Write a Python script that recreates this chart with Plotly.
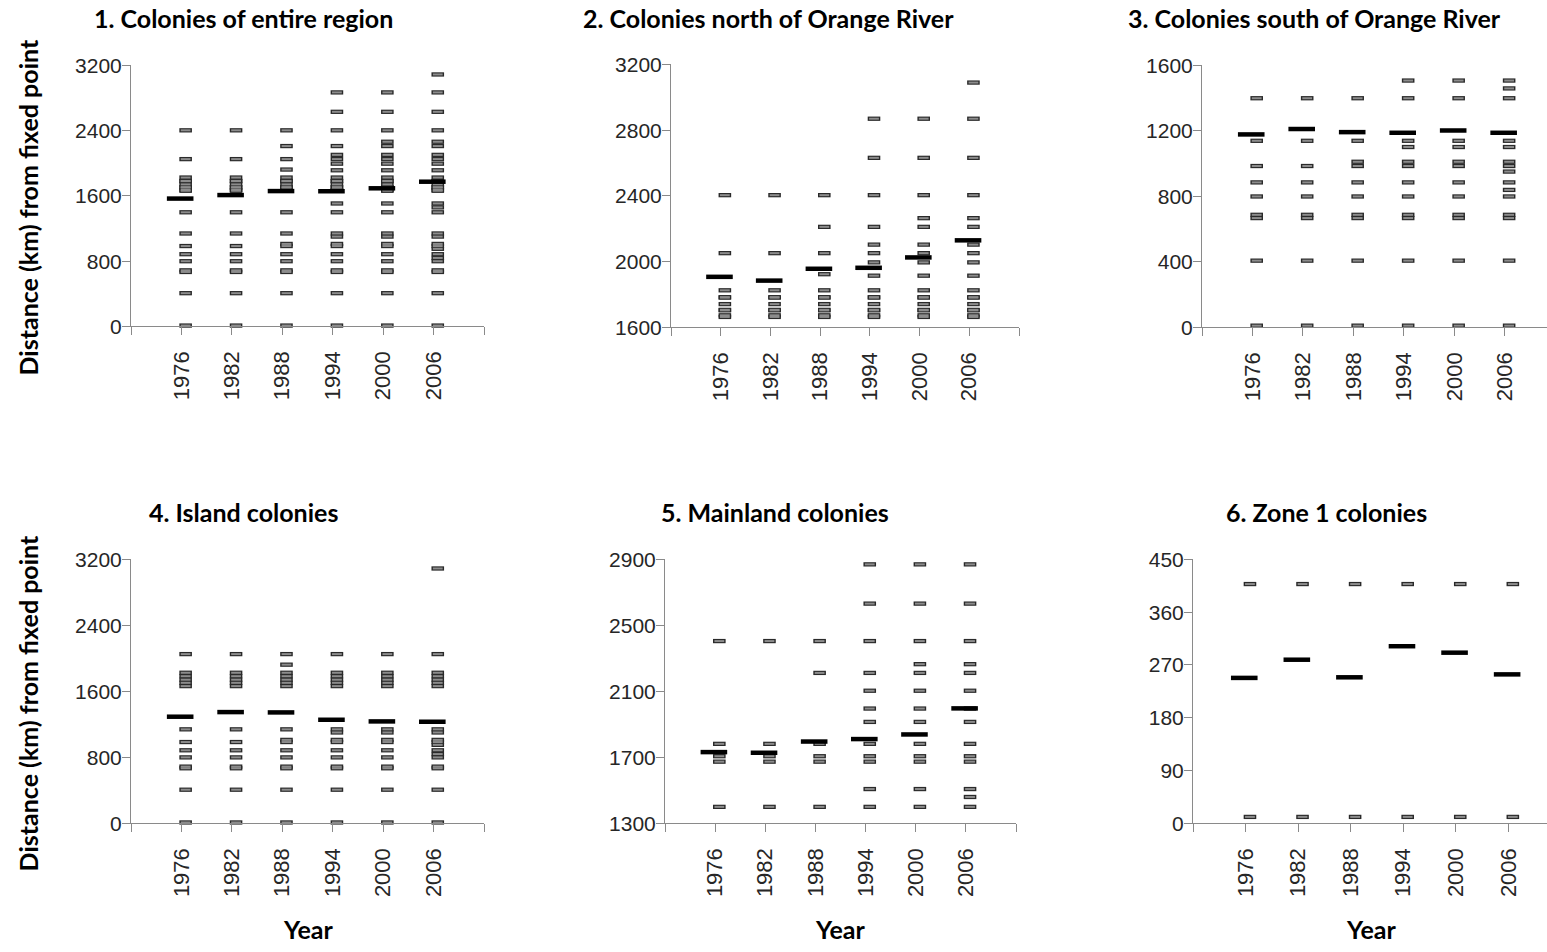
import plotly.graph_objects as go

W = 1547
FIG_H = 952        # figure height
MAP_A = 11.5       # observed vertical offset of the rendered page in the picture
MAP_S = 0.976      # observed vertical scale of the rendered page in the picture

# ---------------- data ----------------
YEARS = [1976, 1982, 1988, 1994, 2000, 2006]
TICK_YEARS = [1970, 1976, 1982, 1988, 1994, 2000, 2006, 2012]
TICK_LABELS = ["", "1976", "1982", "1988", "1994", "2000", "2006", ""]

# colony positions (km from fixed point), habitat, first and last year occupied
colony_km = [11, 408, 668, 688, 800, 886, 986, 1140, 1400,
             1012, 1102, 1508, 952, 840, 1460,
             1664, 1674, 1704, 1707, 1742, 1784, 1782, 1826, 2052, 2405,
             1924, 2212, 2870, 2632, 2104, 1996, 1915, 2265, 3090]
colony_habitat = ["I", "I", "I", "I", "I", "I", "I", "I", "M",
                  "I", "I", "M", "I", "I", "M",
                  "I", "M", "I", "M", "I", "I", "M", "I", "I", "M",
                  "I", "M", "M", "M", "M", "M", "M", "M", "I"]
colony_first = [1976, 1976, 1976, 1976, 1976, 1976, 1976, 1976, 1976,
                1988, 1994, 1994, 2006, 2006, 2006,
                1976, 1976, 1976, 1976, 1976, 1976, 1976, 1976, 1976, 1976,
                1988, 1988, 1994, 1994, 1994, 1994, 1994, 2000, 2006]
colony_last = [2006] * 25 + [1988] + [2006] * 8

# mean (centre of distribution) per panel
mean_entire = [1568, 1611, 1660, 1658, 1694, 1775]
mean_north = [1908, 1885, 1957, 1963, 2026, 2130]
mean_south = [1179, 1212, 1193, 1189, 1203, 1189]
mean_island = [1293, 1349, 1345, 1256, 1236, 1232]
mean_mainland = [1732, 1728, 1796, 1811, 1839, 1997]
mean_zone1 = [248, 279, 249, 302, 291, 254]

titles = ["1. Colonies of entire region", "2. Colonies north of Orange River",
          "3. Colonies south of Orange River", "4. Island colonies",
          "5. Mainland colonies", "6. Zone 1 colonies"]
y_ranges = [[0, 3200], [1600, 3200], [0, 1600], [0, 3200], [1300, 2900], [0, 450]]
y_dticks = [800, 400, 400, 800, 400, 90]
x_ranges = [[1970, 2012], [1970, 2012], [1970, 2011], [1970, 2012], [1970, 2012], [1970, 2010.4]]

# ---------------- layout geometry (pixels in the target picture) ----------------
# (left, right, top, bottom)
boxes = [(131, 484, 65, 326), (671, 1019, 64, 327), (1202, 1547, 65, 327),
         (131, 484, 559, 823), (665, 1016, 559, 823), (1193, 1547, 559, 823)]
title_pos = [(243, 18), (768, 18), (1314, 18), (243, 512), (775, 512), (1326, 512)]

selectors = [
    lambda k, h: True,
    lambda k, h: k > 1600,
    lambda k, h: k < 1600,
    lambda k, h: h == "I",
    lambda k, h: h == "M",
    lambda k, h: k < 450,
]
means = [mean_entire, mean_north, mean_south, mean_island, mean_mainland, mean_zone1]


def px(x):
    return x / W


def py(y):
    yp = (y - MAP_A) / MAP_S
    return 1 - yp / FIG_H


fig = go.Figure()
AX = "#8a8a8a"
TXT = "#262626"
BOLD = dict(family="Lato", size=25, color="black", weight="bold")

for i in range(6):
    ax = "" if i == 0 else str(i + 1)
    xs, ys = [], []
    for yr in YEARS:
        for k, h, f, l in zip(colony_km, colony_habitat, colony_first, colony_last):
            if f <= yr <= l and selectors[i](k, h):
                xs.append(yr + 0.5)
                ys.append(k)
    # colony markers: dark outline + grey centre
    fig.add_trace(go.Scatter(
        x=xs, y=ys, mode="markers", xaxis="x" + ax, yaxis="y" + ax,
        cliponaxis=False, showlegend=False, hoverinfo="skip",
        marker=dict(symbol="line-ew", size=9, color="#2a2a2a",
                    line=dict(width=4.3, color="#2a2a2a"))))
    fig.add_trace(go.Scatter(
        x=xs, y=ys, mode="markers", xaxis="x" + ax, yaxis="y" + ax,
        cliponaxis=False, showlegend=False, hoverinfo="skip",
        marker=dict(symbol="line-ew", size=7, color="#8c8c8c",
                    line=dict(width=2, color="#8c8c8c"))))
    # mean marker
    fig.add_trace(go.Scatter(
        x=[yr - 0.15 for yr in YEARS], y=means[i], mode="markers",
        xaxis="x" + ax, yaxis="y" + ax, cliponaxis=False, showlegend=False,
        marker=dict(symbol="line-ew", size=19, color="black",
                    line=dict(width=4.5, color="black"))))

    l, r, t, b = boxes[i]
    fig.layout["xaxis" + ax] = dict(
        domain=[px(l), min(px(r), 1.0)], range=x_ranges[i], anchor="y" + ax,
        tickmode="array", tickvals=TICK_YEARS, ticktext=TICK_LABELS,
        tickangle=-90, ticks="outside", ticklen=8, tickcolor=AX, tickwidth=1,
        ticklabelstandoff=7,
        showline=True, linecolor=AX, linewidth=1, showgrid=False, zeroline=False,
        tickfont=dict(family="Liberation Sans", size=22, color=TXT), fixedrange=True)
    fig.layout["yaxis" + ax] = dict(
        domain=[py(b), py(t)], range=y_ranges[i], anchor="x" + ax,
        tick0=y_ranges[i][0], dtick=y_dticks[i], tickformat="d",
        ticks="outside", ticklen=8, tickcolor=AX, tickwidth=1,
        ticklabelstandoff=-4,
        showline=True, linecolor=AX, linewidth=1, showgrid=False, zeroline=False,
        tickfont=dict(family="Liberation Sans", size=21, color=TXT), fixedrange=True)

annotations = []
for (tx, ty), t in zip(title_pos, titles):
    annotations.append(dict(x=px(tx), y=py(ty), xref="paper", yref="paper",
                            text=t, showarrow=False, xanchor="center", yanchor="middle",
                            font=BOLD))
for cy in (207, 703):
    annotations.append(dict(x=px(28), y=py(cy), xref="paper", yref="paper",
                            text="Distance (km) from fixed point", textangle=-90,
                            showarrow=False, xanchor="center", yanchor="middle",
                            font=BOLD))
for cx in (308, 840, 1371):
    annotations.append(dict(x=px(cx), y=py(929), xref="paper", yref="paper",
                            text="Year", showarrow=False, xanchor="center", yanchor="middle",
                            font=BOLD))

fig.update_layout(width=W, height=FIG_H, margin=dict(l=0, r=0, t=0, b=0),
                  paper_bgcolor="white", plot_bgcolor="white",
                  annotations=annotations, hovermode=False)

fig.write_html("out.html")
